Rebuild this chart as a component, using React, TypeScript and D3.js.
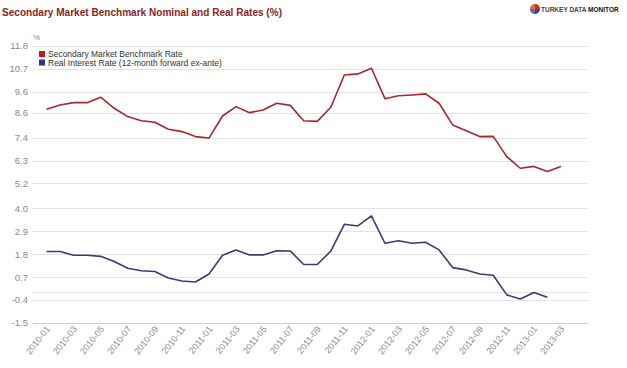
import React, { useEffect, useRef } from 'react'
import * as d3 from 'd3'

const months = [
  '2010-01', '2010-02', '2010-03', '2010-04', '2010-05', '2010-06', '2010-07', '2010-08', '2010-09', '2010-10', '2010-11', '2010-12',
  '2011-01', '2011-02', '2011-03', '2011-04', '2011-05', '2011-06', '2011-07', '2011-08', '2011-09', '2011-10', '2011-11', '2011-12',
  '2012-01', '2012-02', '2012-03', '2012-04', '2012-05', '2012-06', '2012-07', '2012-08', '2012-09', '2012-10', '2012-11', '2012-12',
  '2013-01', '2013-02', '2013-03'
]

const benchmark = [
  8.76, 8.97, 9.08, 9.08, 9.34, 8.81, 8.41, 8.21, 8.14, 7.80, 7.69, 7.45,
  7.38, 8.44, 8.89, 8.60, 8.73, 9.05, 8.95, 8.21, 8.18, 8.86, 10.41, 10.46,
  10.73, 9.27, 9.41, 9.45, 9.50, 9.05, 8.01, 7.73, 7.45, 7.46, 6.49, 5.93,
  6.02, 5.77, 6.02
]

const realRate: (number | null)[] = [
  1.93, 1.93, 1.75, 1.75, 1.70, 1.45, 1.13, 1.01, 0.97, 0.66, 0.52, 0.47,
  0.85, 1.75, 2.00, 1.77, 1.77, 1.97, 1.96, 1.31, 1.31, 1.95, 3.24, 3.16,
  3.64, 2.33, 2.45, 2.33, 2.38, 2.01, 1.16, 1.05, 0.85, 0.79, -0.15, -0.35,
  -0.04, -0.26, null
]

const yTicks = [-1.5, -0.4, 0.7, 1.8, 2.9, 4.0, 5.2, 6.3, 7.4, 8.6, 9.6, 10.7, 11.8]

const seriesNames = ['Secondary Market Benchmark Rate', 'Real Interest Rate (12-month forward ex-ante)']
const seriesColors = ['#a8262c', '#3a3a78']
const legendColors = ['#c4161c', '#2e3192']

const W = 627, H = 368
const FONT = '"Liberation Sans", Arial, sans-serif'

function App() {
  const ref = useRef<SVGSVGElement>(null)

  useEffect(() => {
    const svg = d3.select(ref.current)
    svg.selectAll('*').remove()

    const left = 33, right = 588, top = 46, bottom = 323

    // one empty slot before the first month, two after the last
    let x = d3.scaleLinear().domain([-1, months.length + 1]).range([left, right])
    let y = d3.scaleLinear().domain([-1.5, 11.8]).range([bottom, top])

    // title (condensed look)
    svg.append('text')
      .attr('x', 2).attr('y', 16)
      .attr('font-family', FONT)
      .attr('font-size', '11.5px')
      .attr('font-weight', 'bold')
      .attr('fill', '#8b1f24')
      .attr('textLength', 280)
      .attr('lengthAdjust', 'spacingAndGlyphs')
      .text('Secondary Market Benchmark Nominal and Real Rates (%)')

    // logo
    let logo = svg.append('g').attr('transform', 'translate(535,9)')
    let pie = d3.pie<number>().sort(null)
    let arc = d3.arc<d3.PieArcDatum<number>>().innerRadius(0).outerRadius(5)
    let logoCols = ['#d7262b', '#2b4fa0', '#7b5ea7', '#e36f2c']
    logo.selectAll('path')
      .data(pie([1, 1.2, 0.8, 1]))
      .enter()
      .append('path')
      .attr('d', arc)
      .attr('fill', (d, i) => logoCols[i])
    let logoText = svg.append('text')
      .attr('x', 541).attr('y', 11.5)
      .attr('font-family', FONT)
      .attr('font-size', '6.5px')
      .attr('font-weight', 'bold')
      .attr('fill', '#444')
    logoText.append('tspan').text('TURKEY DATA ')
    logoText.append('tspan').attr('fill', '#111').text('MONITOR')

    // grid
    svg.append('g')
      .selectAll('line')
      .data(yTicks.concat([0]))
      .enter()
      .append('line')
      .attr('x1', left).attr('x2', right)
      .attr('y1', d => Math.round(y(d)) + 0.5)
      .attr('y2', d => Math.round(y(d)) + 0.5)
      .attr('stroke', d => d === -1.5 ? '#cfcfcf' : '#e3e3e3')
      .attr('stroke-width', 1)

    svg.append('g')
      .selectAll('text')
      .data(yTicks)
      .enter()
      .append('text')
      .attr('x', 28)
      .attr('y', d => y(d))
      .attr('dy', '0.35em')
      .attr('text-anchor', 'end')
      .attr('font-family', FONT)
      .attr('font-size', '9.5px')
      .attr('fill', '#8a8a8a')
      .text(d => d.toFixed(1))

    svg.append('text')
      .attr('x', 33).attr('y', 40)
      .attr('font-family', FONT)
      .attr('font-size', '8px')
      .attr('fill', '#8a8a8a')
      .text('%')

    // x labels every 2 months
    svg.append('g')
      .selectAll('text')
      .data(months.map((m, i) => ({ m, i })).filter(d => d.i % 2 === 0))
      .enter()
      .append('text')
      .attr('transform', d => 'translate(' + (x(d.i) + 4) + ',' + 329 + ') rotate(-52)')
      .attr('text-anchor', 'end')
      .attr('font-family', FONT)
      .attr('font-size', '9px')
      .attr('fill', '#8a8a8a')
      .text(d => d.m)

    // lines
    let series = [benchmark as (number | null)[], realRate]
    series.forEach((vals, k) => {
      let line = d3.line<number | null>()
        .defined(d => d !== null)
        .x((d, i) => x(i))
        .y(d => y(d as number))
      svg.append('path')
        .datum(vals)
        .attr('d', line)
        .attr('fill', 'none')
        .attr('stroke', seriesColors[k])
        .attr('stroke-width', 1.6)
        .attr('stroke-linejoin', 'round')
    })

    // legend
    let legend = svg.append('g')
    seriesNames.forEach((name, k) => {
      legend.append('rect')
        .attr('x', 39).attr('y', 51 + k * 8.5)
        .attr('width', 6).attr('height', 6)
        .attr('fill', legendColors[k])
      legend.append('text')
        .attr('x', 48).attr('y', 57 + k * 8.5)
        .attr('font-family', FONT)
        .attr('font-size', '8.5px')
        .attr('fill', '#333')
        .text(name)
    })
  }, [])

  return (
    <svg ref={ref} width={W} height={H}
      style={{ position: 'absolute', left: 0, top: 0, background: '#fff' }} />
  )
}

export default App
